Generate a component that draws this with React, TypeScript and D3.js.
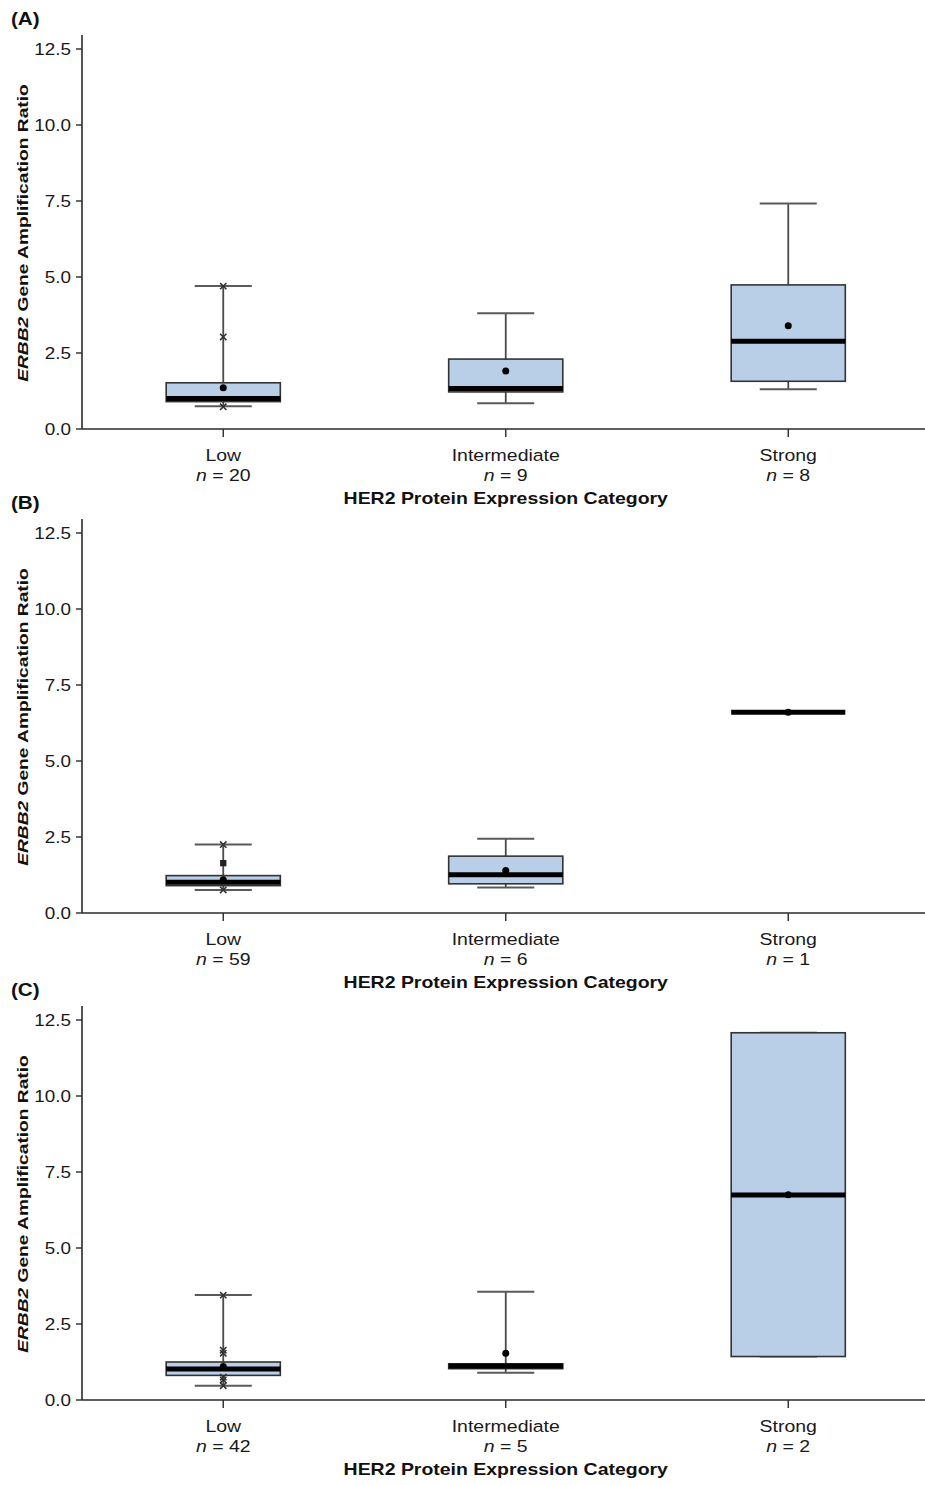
import React, { useEffect, useRef } from "react";
import * as d3 from "d3";

// categories and labels
const categories = ["Low", "Intermediate", "Strong"];
const panelLabels = ["(A)", "(B)", "(C)"];
const yTicks = [0, 2.5, 5, 7.5, 10, 12.5];

const nA = [20, 9, 8];
const nB = [59, 6, 1];
const nC = [42, 5, 2];

// box stats (lo/hi = whisker ends)
const statsA = [
  { lo: 0.75, q1: 0.9, med: 1.0, q3: 1.52, hi: 4.7, mean: 1.36 },
  { lo: 0.85, q1: 1.22, med: 1.33, q3: 2.3, hi: 3.81, mean: 1.91 },
  { lo: 1.31, q1: 1.57, med: 2.89, q3: 4.74, hi: 7.42, mean: 3.4 },
];
const statsB = [
  { lo: 0.76, q1: 0.9, med: 1.01, q3: 1.23, hi: 2.25, mean: 1.09 },
  { lo: 0.84, q1: 0.96, med: 1.26, q3: 1.87, hi: 2.44, mean: 1.4 },
  { lo: 6.6, q1: 6.6, med: 6.6, q3: 6.6, hi: 6.6, mean: 6.6 },
];
const statsC = [
  { lo: 0.47, q1: 0.81, med: 1.02, q3: 1.25, hi: 3.45, mean: 1.1 },
  { lo: 0.9, q1: 1.03, med: 1.12, q3: 1.19, hi: 3.56, mean: 1.54 },
  { lo: 1.43, q1: 1.43, med: 6.74, q3: 12.08, hi: 12.08, mean: 6.75 },
];

// individual marks drawn on the Low boxes
const pointsA = [4.7, 3.03, 0.73];
const pointsB = [2.25, 0.76];
const squaresB = [1.64];
const pointsC = [3.45, 1.64, 1.54, 0.75, 0.66, 0.47];

const panels = [
  { label: panelLabels[0], n: nA, stats: statsA, points: pointsA, squares: [] as number[] },
  { label: panelLabels[1], n: nB, stats: statsB, points: pointsB, squares: squaresB },
  { label: panelLabels[2], n: nC, stats: statsC, points: pointsC, squares: [] as number[] },
];

const width = 925;
const height = 1485;
const marginLeft = 82;
const panelBottoms = [429, 913, 1400];
const plotHeight = 380;
const font = "'Liberation Sans', Arial, sans-serif";
const stretch = 1.18;

export default function App() {
  const ref = useRef<SVGSVGElement>(null);

  useEffect(() => {
    const svg = d3.select(ref.current);
    svg.selectAll("*").remove();

    const x = d3.scaleBand().domain(categories).range([marginLeft, 929.5]);
    const cx = (c: string) => (x(c) as number) + x.bandwidth() / 2;
    const boxW = x.bandwidth() * 0.404;
    const capW = boxW / 2;

    panels.forEach((p, pi) => {
      const bottom = panelBottoms[pi];
      const y = d3.scaleLinear().domain([0, 12.5]).range([bottom, bottom - plotHeight]);
      const g = svg.append("g");

      // panel letter
      g.append("text")
        .attr("transform", `translate(11,${bottom - 404}) scale(${stretch},1)`)
        .attr("font-family", font)
        .attr("font-weight", "bold")
        .attr("font-size", 17.5)
        .attr("fill", "#111")
        .text(p.label);

      // axes lines
      g.append("line")
        .attr("x1", marginLeft).attr("x2", marginLeft)
        .attr("y1", bottom - 394).attr("y2", bottom)
        .attr("stroke", "#2a2a2a").attr("stroke-width", 1.6);
      g.append("line")
        .attr("x1", marginLeft).attr("x2", width)
        .attr("y1", bottom).attr("y2", bottom)
        .attr("stroke", "#2a2a2a").attr("stroke-width", 1.6);

      // y ticks
      yTicks.forEach((t) => {
        g.append("line")
          .attr("x1", marginLeft - 6).attr("x2", marginLeft)
          .attr("y1", y(t)).attr("y2", y(t))
          .attr("stroke", "#2a2a2a").attr("stroke-width", 1.4);
        g.append("text")
          .attr("transform", `translate(${marginLeft - 11},${y(t) + 5.8}) scale(1.18,1)`)
          .attr("text-anchor", "end")
          .attr("font-family", font)
          .attr("font-size", 16)
          .attr("fill", "#1a1a1a")
          .text(d3.format(".1f")(t));
      });

      // y title
      const yt = g.append("text")
        .attr("transform", `translate(28,${bottom - 196}) rotate(-90) scale(1.37,1)`)
        .attr("text-anchor", "middle")
        .attr("font-family", font)
        .attr("font-weight", "bold")
        .attr("font-size", 14)
        .attr("fill", "#111");
      yt.append("tspan").attr("font-style", "italic").text("ERBB2");
      yt.append("tspan").text(" Gene Amplification Ratio");

      // x ticks and category labels
      categories.forEach((c, i) => {
        g.append("line")
          .attr("x1", cx(c)).attr("x2", cx(c))
          .attr("y1", bottom).attr("y2", bottom + 8)
          .attr("stroke", "#2a2a2a").attr("stroke-width", 1.4);
        g.append("text")
          .attr("transform", `translate(${cx(c)},${bottom + 32}) scale(${stretch},1)`)
          .attr("text-anchor", "middle")
          .attr("font-family", font)
          .attr("font-size", 16.5)
          .attr("fill", "#1a1a1a")
          .text(c);
        const nt = g.append("text")
          .attr("transform", `translate(${cx(c)},${bottom + 52}) scale(${stretch},1)`)
          .attr("text-anchor", "middle")
          .attr("font-family", font)
          .attr("font-size", 16.5)
          .attr("fill", "#1a1a1a");
        nt.append("tspan").attr("font-style", "italic").text("n");
        nt.append("tspan").text(` = ${p.n[i]}`);
      });

      // x title
      g.append("text")
        .attr("transform", `translate(${(marginLeft + 929.5) / 2},${bottom + 75}) scale(${stretch},1)`)
        .attr("text-anchor", "middle")
        .attr("font-family", font)
        .attr("font-weight", "bold")
        .attr("font-size", 16.5)
        .attr("fill", "#111")
        .text("HER2 Protein Expression Category");

      // boxes
      p.stats.forEach((s, i) => {
        const c = cx(categories[i]);
        g.append("line")
          .attr("x1", c).attr("x2", c)
          .attr("y1", y(s.lo)).attr("y2", y(s.hi))
          .attr("stroke", "#4a4a4a").attr("stroke-width", 1.8);
        [s.lo, s.hi].forEach((v) => {
          g.append("line")
            .attr("x1", c - capW / 2).attr("x2", c + capW / 2)
            .attr("y1", y(v)).attr("y2", y(v))
            .attr("stroke", "#5a5a5a").attr("stroke-width", 2);
        });
        g.append("rect")
          .attr("x", c - boxW / 2)
          .attr("y", y(s.q3))
          .attr("width", boxW)
          .attr("height", Math.max(0, y(s.q1) - y(s.q3)))
          .attr("fill", "#b9cfe7")
          .attr("stroke", "#333")
          .attr("stroke-width", 1.6);
        g.append("line")
          .attr("x1", c - boxW / 2).attr("x2", c + boxW / 2)
          .attr("y1", y(s.med)).attr("y2", y(s.med))
          .attr("stroke", "#000").attr("stroke-width", 5);
        g.append("circle")
          .attr("cx", c).attr("cy", y(s.mean)).attr("r", 3.5)
          .attr("fill", "#000");
      });

      // individual marks
      const lowX = cx(categories[0]);
      const times = d3.symbol().type(d3.symbolTimes).size(28);
      p.points.forEach((v) => {
        g.append("path")
          .attr("d", times())
          .attr("transform", `translate(${lowX},${y(v)})`)
          .attr("stroke", "#333").attr("stroke-width", 1.6).attr("fill", "none");
      });
      const sq = d3.symbol().type(d3.symbolSquare).size(40);
      p.squares.forEach((v) => {
        g.append("path")
          .attr("d", sq())
          .attr("transform", `translate(${lowX},${y(v)})`)
          .attr("fill", "#222");
      });
    });
  }, []);

  return (
    <svg
      ref={ref}
      width={width}
      height={height}
      style={{ position: "absolute", left: 0, top: 0, display: "block", background: "#fff" }}
    ></svg>
  );
}
